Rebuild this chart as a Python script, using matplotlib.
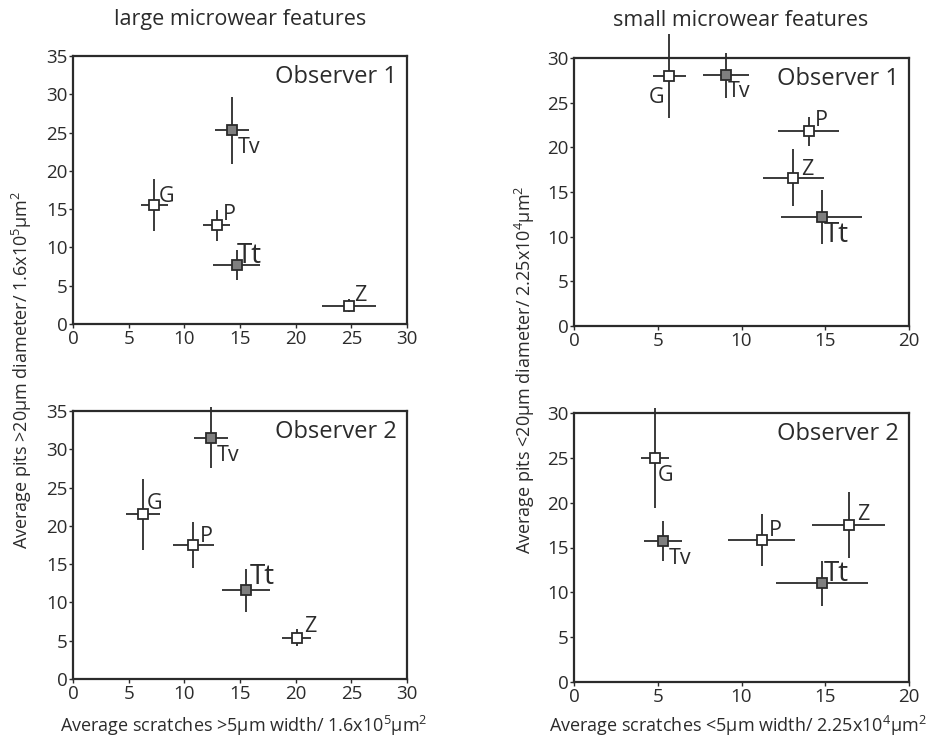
import numpy as np
import matplotlib
matplotlib.use("Agg")
import matplotlib.pyplot as plt

plt.rcParams["font.family"] = ["Open Sans", "DejaVu Sans"]
plt.rcParams["mathtext.fontset"] = "custom"
plt.rcParams["mathtext.rm"] = "Open Sans"
plt.rcParams["mathtext.it"] = "Open Sans"
plt.rcParams["mathtext.bf"] = "Open Sans"

# taxa in drawing order
labels = ["G", "Tv", "P", "Tt", "Z"]
filled = [False, True, False, True, False]

# large features, observer 1 (scratches, pits, x err, y err)
large1_x = [7.3, 14.3, 12.9, 14.7, 24.8]
large1_y = [15.5, 25.3, 12.9, 7.7, 2.4]
large1_xerr = [1.2, 1.55, 1.2, 2.1, 2.4]
large1_yerr = [3.4, 4.35, 2.0, 2.0, 0.8]

# large features, observer 2
large2_x = [6.3, 12.4, 10.8, 15.5, 20.1]
large2_y = [21.5, 31.5, 17.5, 11.6, 5.4]
large2_xerr = [1.55, 1.55, 1.85, 2.15, 1.3]
large2_yerr = [4.6, 4.0, 3.05, 2.8, 1.1]

# small features, observer 1
small1_x = [5.7, 9.05, 14.0, 14.8, 13.1]
small1_y = [28.0, 28.05, 21.8, 12.2, 16.6]
small1_xerr = [1.0, 1.37, 1.85, 2.42, 1.8]
small1_yerr = [4.7, 2.5, 1.6, 3.0, 3.2]

# small features, observer 2
small2_x = [4.85, 5.3, 11.2, 14.8, 16.4]
small2_y = [25.0, 15.7, 15.8, 11.0, 17.5]
small2_xerr = [0.85, 1.12, 2.0, 2.76, 2.18]
small2_yerr = [5.6, 2.26, 2.9, 2.5, 3.67]

# label placement per panel: (dx px, dy px, ha, va)
lab_large1 = [(4, 3, "left", "baseline"), (6, -7, "left", "top"), (6, 5, "left", "baseline"),
              (0, 2, "left", "baseline"), (5, 5, "left", "baseline")]
lab_large2 = [(4, 5, "left", "baseline"), (6, -7, "left", "top"), (7, 3, "left", "baseline"),
              (4, 6, "left", "baseline"), (7, 6, "left", "baseline")]
lab_small1 = [(-5, -11, "right", "top"), (2, -6, "left", "top"), (6, 5, "left", "baseline"),
              (2, -4, "left", "top"), (8, 3, "left", "baseline")]
lab_small2 = [(3, -7, "left", "top"), (6, -7, "left", "top"), (7, 4, "left", "baseline"),
              (2, 2, "left", "baseline"), (8, 5, "left", "baseline")]

INK = "#2b2b2b"
GREY = "#7f7f7f"
PX = 72 / 100  # points per pixel at dpi 100


def panel(ax, xs, ys, xerr, yerr, labpos, xmax, ymax, observer):
    for i, lab in enumerate(labels):
        ax.errorbar(xs[i], ys[i], xerr=xerr[i], yerr=yerr[i], fmt="none",
                    ecolor=INK, elinewidth=1.3, capsize=0, clip_on=False, zorder=2)
        ax.plot(xs[i], ys[i], marker="s", ms=7.5, mec=INK, mew=1.3,
                mfc=GREY if filled[i] else "white", ls="none", clip_on=False, zorder=3)
        dx, dy, ha, va = labpos[i]
        ax.annotate(lab, (xs[i], ys[i]), xytext=(dx * PX, dy * PX), textcoords="offset points",
                    ha=ha, va=va, fontsize=20 if lab == "Tt" else 15.5, color=INK,
                    annotation_clip=False)
    ax.set_xlim(0, xmax)
    ax.set_ylim(0, ymax)
    ax.set_xticks(np.arange(0, xmax + 1, 5))
    ax.set_yticks(np.arange(0, ymax + 1, 5))
    ax.tick_params(direction="out", length=3, width=1, colors=INK, labelsize=13.5,
                   labelcolor=INK, pad=1)
    for s in ax.spines.values():
        s.set_color(INK)
        s.set_linewidth(1.6)
    ax.text(0.97, 0.965, "Observer " + observer, transform=ax.transAxes, ha="right",
            va="top", fontsize=17, color=INK)


fig = plt.figure(figsize=(9.32, 7.39), dpi=100)
W, H = 932, 739


def rect(x0, y0, x1, y1):
    return [x0 / W, 1 - y1 / H, (x1 - x0) / W, (y1 - y0) / H]


ax_l1 = fig.add_axes(rect(73, 56, 407, 324))
ax_s1 = fig.add_axes(rect(574, 58, 909, 326))
ax_l2 = fig.add_axes(rect(73, 411, 407, 679))
ax_s2 = fig.add_axes(rect(574, 413, 909, 682))

panel(ax_l1, large1_x, large1_y, large1_xerr, large1_yerr, lab_large1, 30, 35, "1")
panel(ax_l2, large2_x, large2_y, large2_xerr, large2_yerr, lab_large2, 30, 35, "2")
panel(ax_s1, small1_x, small1_y, small1_xerr, small1_yerr, lab_small1, 20, 30, "1")
panel(ax_s2, small2_x, small2_y, small2_xerr, small2_yerr, lab_small2, 20, 30, "2")

fig.text(240 / W, 1 - 20 / H, "large microwear features", ha="center", va="center",
         fontsize=15.5, color=INK)
fig.text(741 / W, 1 - 20 / H, "small microwear features", ha="center", va="center",
         fontsize=15.5, color=INK)

fig.text(22 / W, 0.5, "Average pits >20μm diameter/ 1.6x10$^5$μm$^2$", rotation=90,
         ha="center", va="center", fontsize=13, color=INK)
fig.text(525 / W, 0.5, "Average pits <20μm diameter/ 2.25x10$^4$μm$^2$", rotation=90,
         ha="center", va="center", fontsize=13, color=INK)
fig.text(244 / W, 1 - 726 / H, "Average scratches >5μm width/ 1.6x10$^5$μm$^2$",
         ha="center", va="center", fontsize=13, color=INK)
fig.text(738 / W, 1 - 726 / H, "Average scratches <5μm width/ 2.25x10$^4$μm$^2$",
         ha="center", va="center", fontsize=13, color=INK)

fig.savefig("out.png", dpi=100)
